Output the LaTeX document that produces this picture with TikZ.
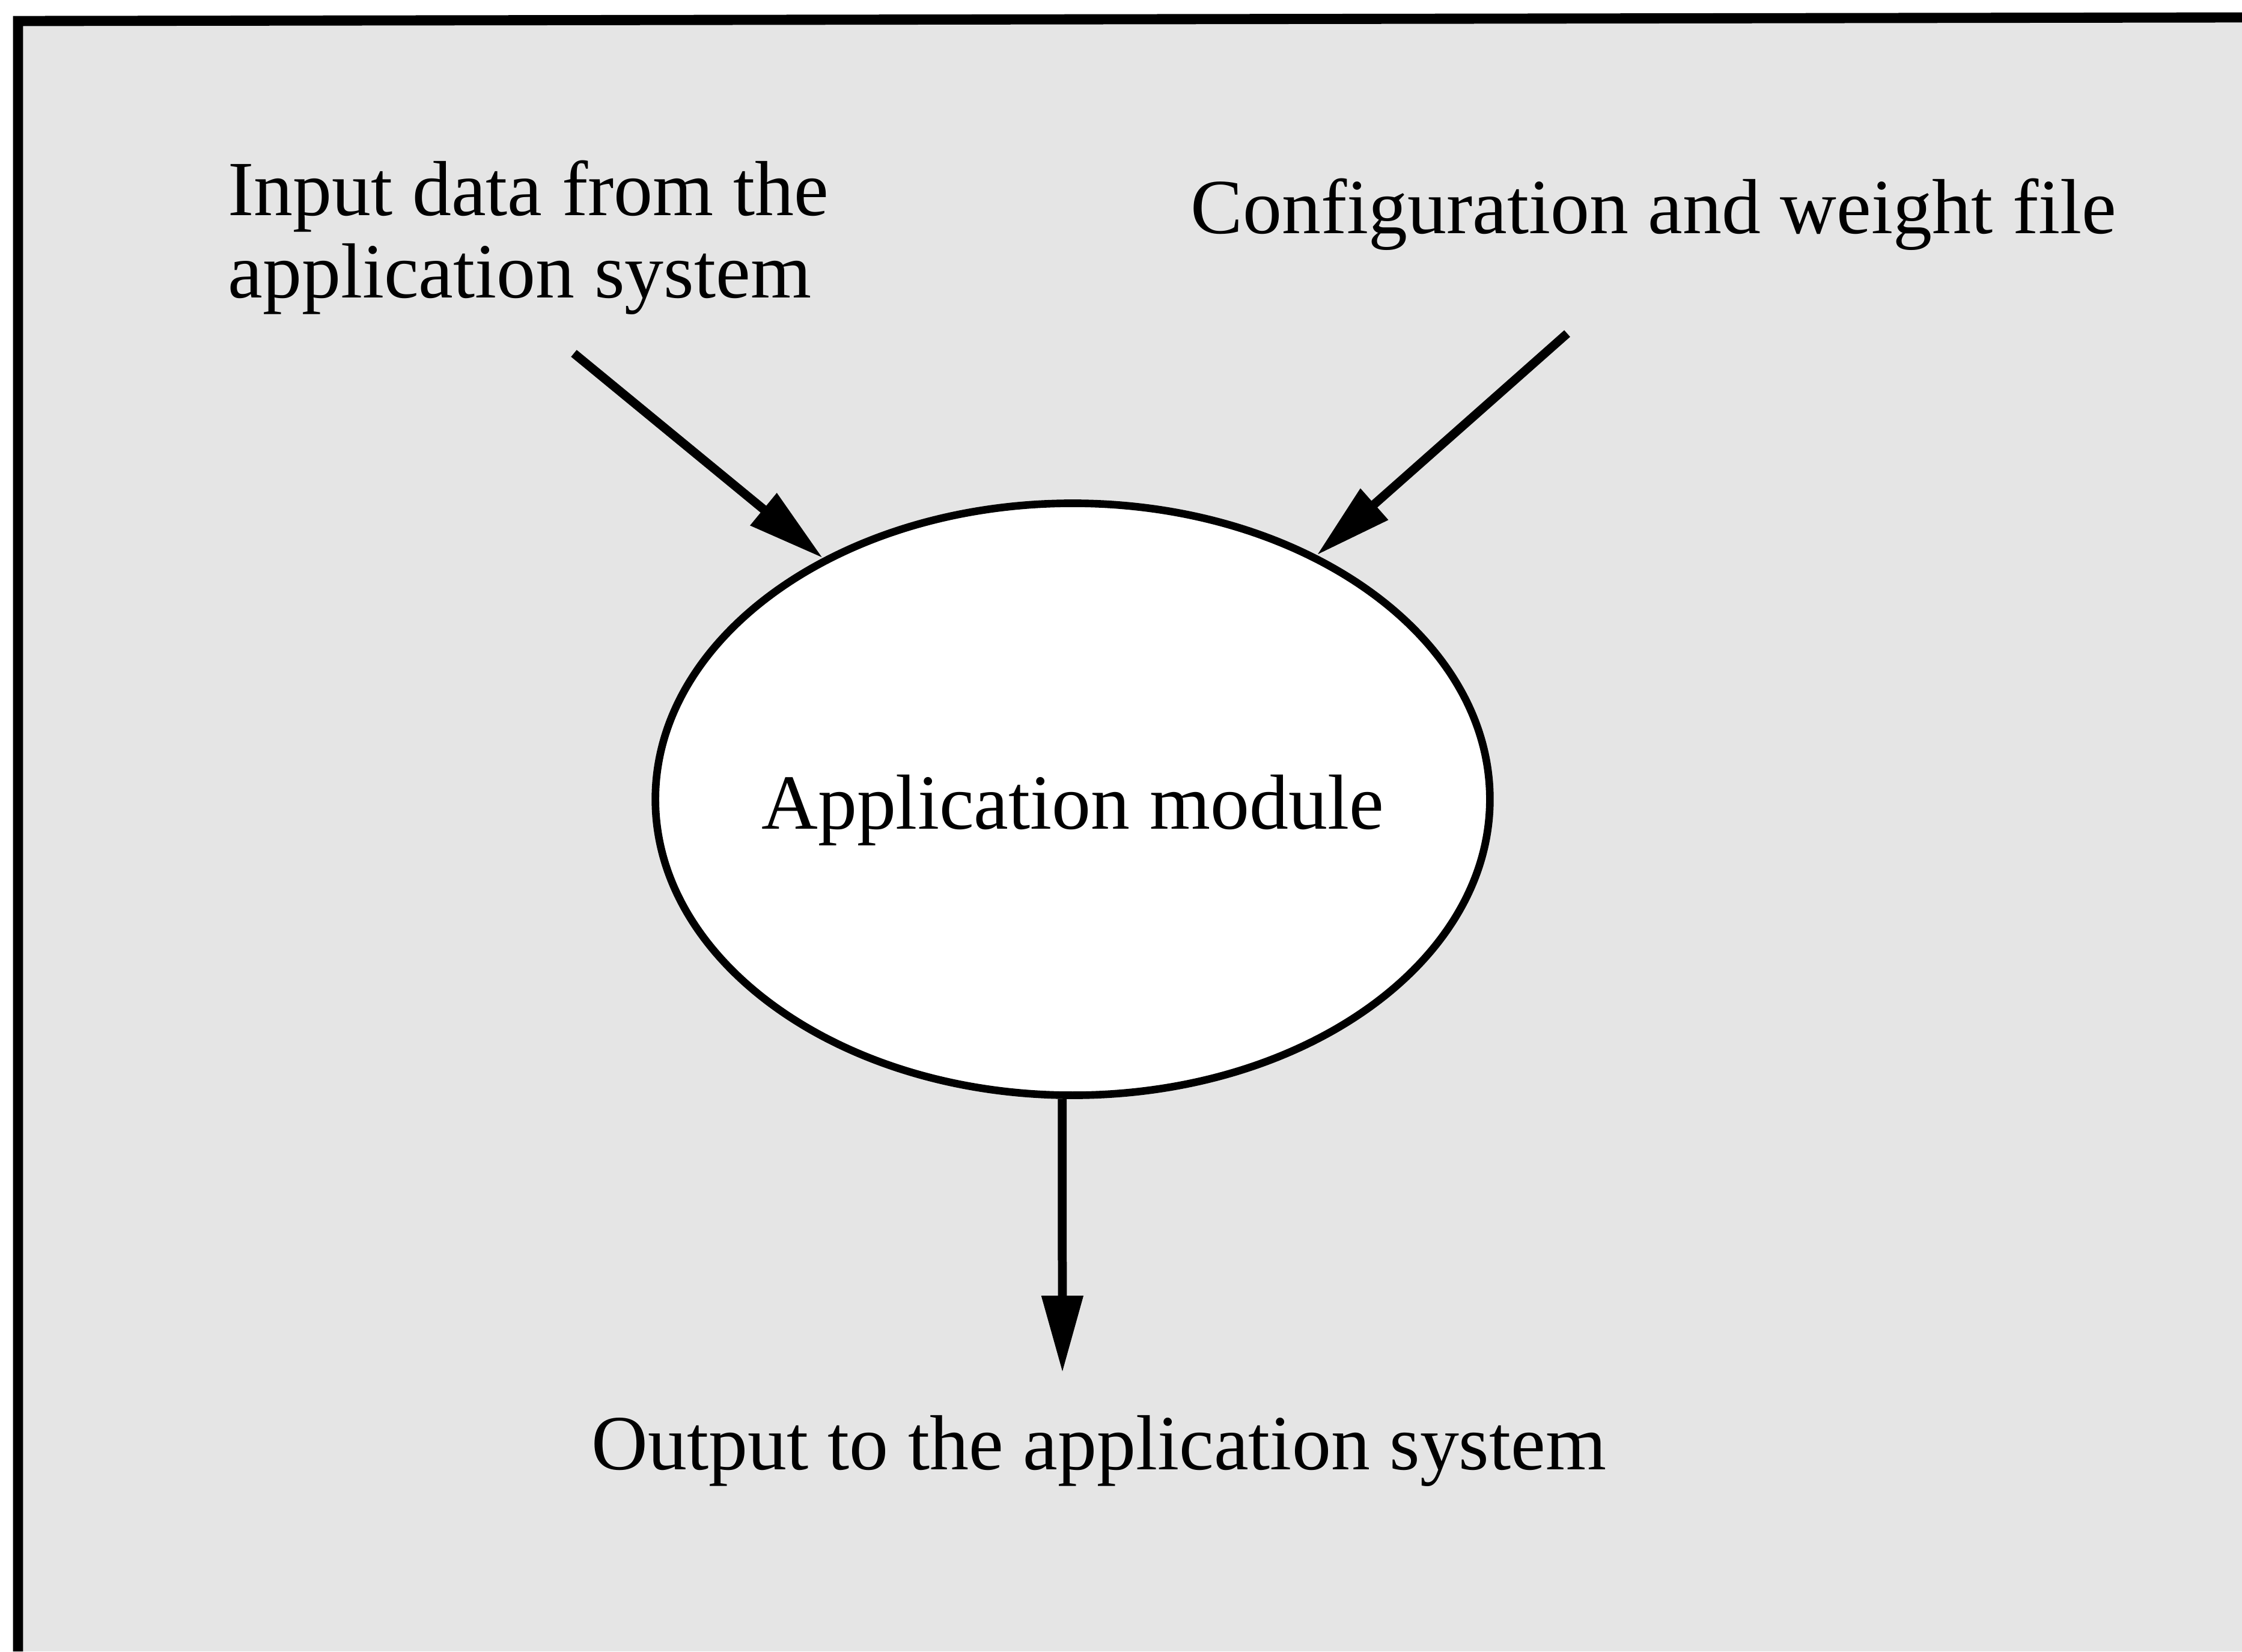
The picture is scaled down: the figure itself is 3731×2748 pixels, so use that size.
\documentclass[tikz,border=0pt]{standalone}
\usepackage{fontspec}
\setmainfont{Liberation Serif}
\usetikzlibrary{arrows.meta,shapes.geometric,positioning}

\begin{document}
\begin{tikzpicture}[
    x=0.005cm, y=-0.005cm,
    modl/.style={draw, ellipse, line width=1.8pt, fill=white, minimum width=6.95cm, minimum height=4.93cm, inner sep=0pt, font=\fontsize{18.5}{19.4}\selectfont},
    arr/.style={-{Triangle[length=0.64cm, width=0.33cm]}, line width=2.1pt},
    lbl/.style={inner sep=0pt, align=left, font=\fontsize{18.5}{19.4}\selectfont}
]
\useasboundingbox (0,0) rectangle (3731,2748);
% shaded panel and its frame
\fill[black!10] (30,33) rectangle (3731,2748);
\draw[line width=2.4pt] (30,2748) -- (30,35) -- (3731,29);

\node[modl] (mod) at (1785,1330) {\makebox[0pt]{\raisebox{-0.25cm}[0pt][0pt]{Application module}}};

\node[lbl, anchor=base west] (inp) at (378,495) {Input data from the\\application system};
\node[lbl, anchor=base west] (cfg) at (1980,388) {Configuration and weight file};
\node[lbl, anchor=base west] (outp) at (983,2445) {Output to the application system};

\coordinate (inA) at (955,588);
\coordinate (inB) at (2608,555);
\coordinate (outA) at (1768,2284);

\draw[arr] (inA) -- (mod.136);
\draw[arr] (inB) -- (mod.45);
\draw[arr] (mod.268) -- (outA);
\end{tikzpicture}
\end{document}
